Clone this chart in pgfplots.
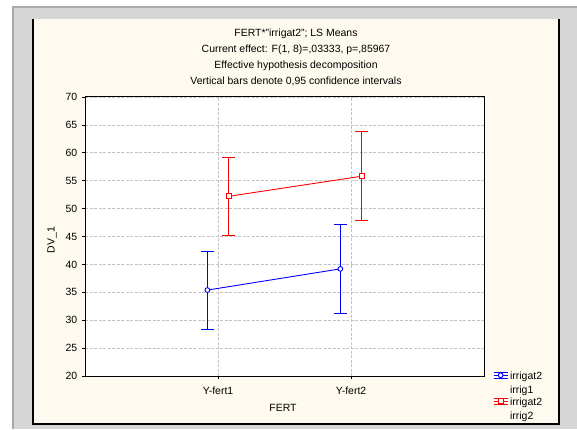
\documentclass[border=0pt]{standalone}
\usepackage{pgfplots}
\pgfplotsset{compat=1.18}
\usepackage{fontspec}
\setmainfont{Liberation Sans}
\definecolor{panel}{RGB}{254,250,240}
\definecolor{winbg}{RGB}{214,214,214}
\definecolor{winedge}{RGB}{170,170,170}
\definecolor{gridc}{RGB}{195,195,195}
\pgfplotsset{
  ebicon/.style={legend image code/.code={
    \draw[##1, mark=none] (0bp,2.8bp) -- (14bp,2.8bp);
    \draw[##1, mark=none] (0bp,0bp) -- (14bp,0bp);
    \draw[##1, mark=none] (0bp,-2.8bp) -- (14bp,-2.8bp);
    \draw[##1, mark=none] (7bp,-2.8bp) -- (7bp,2.8bp);
    \draw[##1] plot coordinates {(7bp,0bp)};
  }}
}
\begin{document}
\fontsize{10.5}{15.5}\selectfont
\begin{tikzpicture}[x=1bp,y=1bp]
\useasboundingbox (0,0) rectangle (577,429);
\fill[white] (0,0) rectangle (577,429);
\fill[winedge] (12,0) rectangle (577,423);
\fill[winbg] (14,0) rectangle (577,420.5);
\fill[panel] (33,5) rectangle (559,410);
\draw[black, line width=1.3bp] (33,410) -- (33,5) -- (559,5) -- (559,410);
\begin{axis}[at={(85bp,53bp)}, anchor=south west, scale only axis,
  width=399bp, height=279bp,
  xmin=0, xmax=3, ymin=20, ymax=70,
  xtick={1,2}, xticklabels={Y-fert1,Y-fert2},
  ytick={20,25,...,70},
  axis background/.style={fill=white},
  axis line style={black, line width=1bp},
  grid=major,
  major grid style={gridc, dash pattern=on 3bp off 1.5bp, line width=0.8bp},
  tick style={black, line width=0.8bp},
  major tick length=3bp, tick align=outside,
  xtick pos=bottom, ytick pos=left,
  tick label style={font=\fontsize{10.5}{12}\selectfont},
  /pgf/number format/assume math mode=true,
  xticklabel style={yshift=-4bp},
  yticklabel style={xshift=-1bp},
  legend style={draw=none, fill=none, at={(axis description cs:1,0)},
    anchor=north west, xshift=8bp, yshift=10bp,
    font=\fontsize{10.5}{15}\selectfont, row sep=10bp,
    inner sep=1bp},
  legend cell align=left,
]
\addplot[color=blue, line width=0.9bp, mark=*, mark size=2.4bp,
  mark options={fill=white, solid, line width=0.9bp}, ebicon,
  error bars/.cd, y dir=both, y explicit,
  error bar style={line width=1bp, draw=blue},
  error mark options={rotate=90, draw=blue, mark size=6.5bp, line width=1bp}]
  coordinates {(0.92,35.4) +- (0,7) (1.92,39.2) +- (0,8)};
\addlegendentry{\begin{tabular}[t]{@{}l@{}}irrigat2\\[-1.5bp]irrig1\end{tabular}}
\addplot[color=red, line width=0.9bp, mark=square*, mark size=2.4bp,
  mark options={fill=white, solid, line width=0.9bp}, ebicon,
  error bars/.cd, y dir=both, y explicit,
  error bar style={line width=1bp, draw=red},
  error mark options={rotate=90, draw=red, mark size=6.5bp, line width=1bp}]
  coordinates {(1.08,52.2) +- (0,7) (2.08,55.8) +- (0,8)};
\addlegendentry{\begin{tabular}[t]{@{}l@{}}irrigat2\\[-1.5bp]irrig2\end{tabular}}
\end{axis}
\node[anchor=base] at (296,392) {FERT*"irrigat2"; LS Means};
\node[anchor=base] at (296,376.3) {Current effect: F(1, 8)=,03333, p=,85967};
\node[anchor=base] at (296,360.5) {Effective hypothesis decomposition};
\node[anchor=base] at (296,345) {Vertical bars denote 0,95 confidence intervals};
\node at (283,21) {FERT};
\node[rotate=90] at (52,189) {DV\_1};
\end{tikzpicture}
\end{document}
